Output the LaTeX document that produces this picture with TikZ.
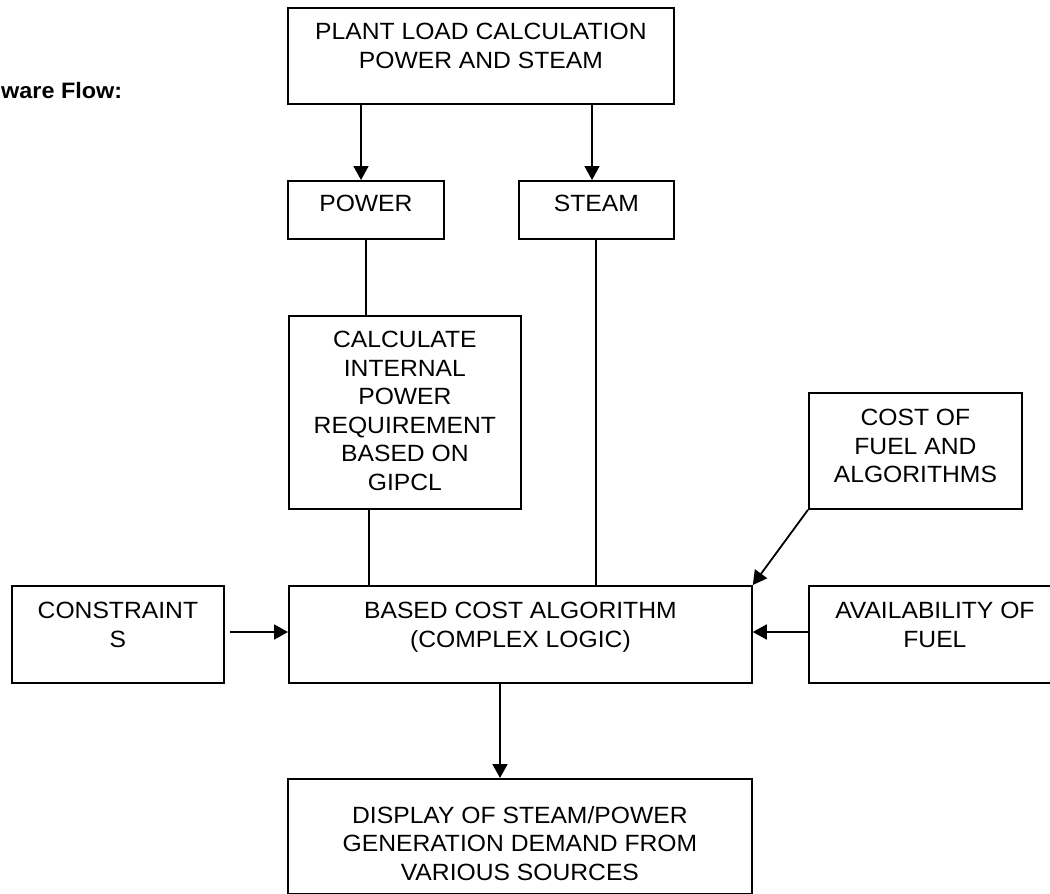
\documentclass[tikz,border=0pt]{standalone}
\usepackage{fontspec}
\setmainfont[FakeStretch=1.05]{Liberation Sans}
\usetikzlibrary{arrows.meta}
\begin{document}
\begin{tikzpicture}[x=1pt,y=-1pt,
  box/.style={draw, line width=1.8pt, inner sep=0pt, anchor=north west, rectangle},
  txt/.style={anchor=north, inner sep=0pt, align=center, font=\fontsize{23.5}{28.5}\selectfont},
  conn/.style={line width=1.8pt},
  arr/.style={line width=1.8pt, -{Triangle[length=14pt,width=15pt]}}]
\fill[white] (0,0) rectangle (1050,894);
\useasboundingbox (0,0) rectangle (1050,894);

\node[anchor=base west, inner sep=0pt, font=\bfseries\fontsize{22.3}{27}\selectfont] (title) at (1,98) {ware Flow:};

\node[box, minimum width=386pt, minimum height=96pt] (top) at (287,7) {};
\node[txt] (topt) at ([yshift=-16pt]top.north) {PLANT LOAD CALCULATION\\POWER AND STEAM};

\node[box, minimum width=156pt, minimum height=58pt] (power) at (287,180) {};
\node[txt] (powert) at ([yshift=-15pt]power.north) {POWER};

\node[box, minimum width=155pt, minimum height=58pt] (steam) at (518,180) {};
\node[txt] (steamt) at ([yshift=-15pt]steam.north) {STEAM};

\node[box, minimum width=232pt, minimum height=193pt] (calc) at (288,315) {};
\node[txt] (calct) at ([yshift=-16pt]calc.north) {CALCULATE\\INTERNAL\\POWER\\REQUIREMENT\\BASED ON\\GIPCL};

\node[box, minimum width=213pt, minimum height=116pt] (cost) at (808,392) {};
\node[txt] (costt) at ([yshift=-17pt]cost.north) {COST OF\\FUEL AND\\ALGORITHMS};

\node[box, minimum width=212pt, minimum height=97pt] (cons) at (11,585) {};
\node[txt] (const) at ([yshift=-17pt]cons.north) {CONSTRAINT\\S};

\node[box, minimum width=463pt, minimum height=97pt] (based) at (288,585) {};
\node[txt] (basedt) at ([yshift=-17pt]based.north) {BASED COST ALGORITHM\\(COMPLEX LOGIC)};

\node[box, minimum width=252pt, minimum height=97pt] (avail) at (808,585) {};
\node[txt] (availt) at ([yshift=-17pt]avail.north) {AVAILABILITY OF\\FUEL};

\node[box, minimum width=464pt, minimum height=115pt] (disp) at (287,778) {};
\node[txt] (dispt) at ([yshift=-28pt]disp.north) {DISPLAY OF STEAM/POWER\\GENERATION DEMAND FROM\\VARIOUS SOURCES};

\coordinate (xp) at (361,0);
\coordinate (xs) at (592,0);
\coordinate (xc) at (369,0);
\coordinate (xd) at (500,0);
\coordinate (xst) at (596.3,0);
\coordinate (cstart) at (230,632);

\draw[arr] (top.south -| xp) -- (power.north -| xp);
\draw[arr] (top.south -| xs) -- (steam.north -| xs);
\draw[conn] (power.south) -- (calc.north -| power.south);
\draw[conn] (calc.south -| xc) -- (based.north -| xc);
\draw[conn] (steam.south -| xst) -- (based.north -| xst);
\draw[arr] (cost.south west) -- (based.north east);
\draw[arr] (cstart) -- (based.west |- cstart);
\draw[arr] (avail.west |- cstart) -- (based.east |- cstart);
\draw[arr] (based.south -| xd) -- (disp.north -| xd);
\end{tikzpicture}
\end{document}
